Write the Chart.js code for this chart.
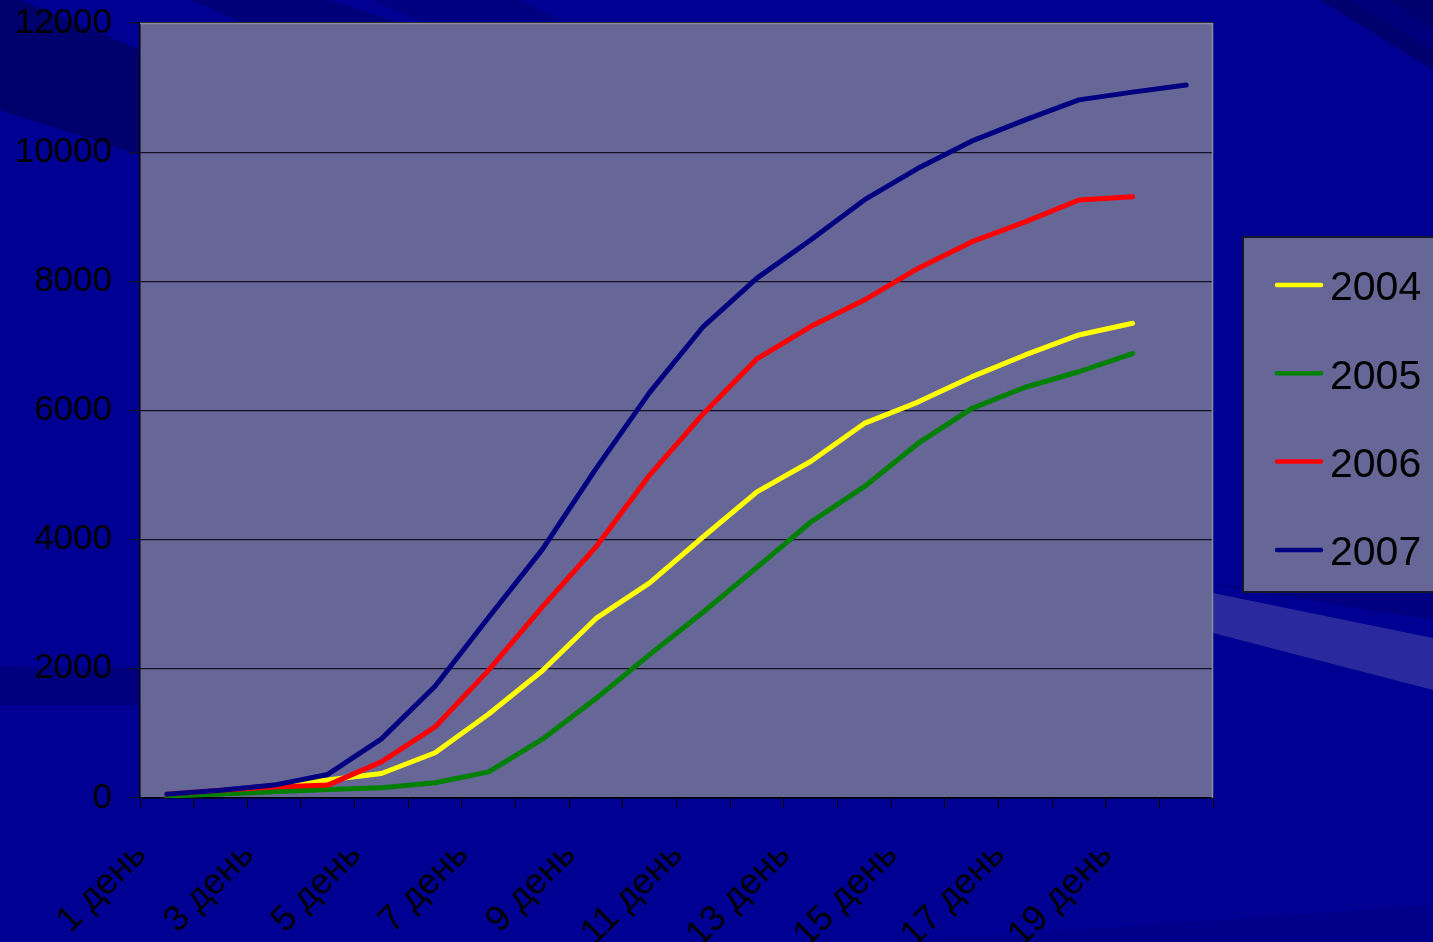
<!DOCTYPE html>
<html>
<head>
<meta charset="utf-8">
<script src="https://cdn.jsdelivr.net/npm/chart.js@4.4.1/dist/chart.umd.min.js"></script>
<style>
  html, body { margin: 0; padding: 0; background: #000092; }
  #wrap { width: 1433px; height: 942px; position: relative; }
</style>
</head>
<body>
<div id="wrap"><canvas id="c"></canvas></div>
<script>
// Category labels (days) and the cumulative series per year
const days = ['1 день','2 день','3 день','4 день','5 день','6 день','7 день','8 день','9 день','10 день',
              '11 день','12 день','13 день','14 день','15 день','16 день','17 день','18 день','19 день','20 день'];
const years = ['2004', '2005', '2006', '2007'];
const colors = ['#ffff00', '#008000', '#ff0000', '#000080'];

const v2004 = [55, 110, 190, 280, 380, 700, 1300, 1970, 2780, 3330, 4045, 4740, 5210, 5800, 6130, 6520, 6860, 7170, 7350];
const v2005 = [30, 60, 95, 130, 160, 235, 405, 910, 1540, 2220, 2880, 3570, 4270, 4820, 5490, 6030, 6360, 6600, 6880];
const v2006 = [60, 120, 170, 200, 560, 1100, 1980, 2960, 3890, 5000, 5950, 6800, 7300, 7710, 8200, 8610, 8920, 9260, 9310];
const v2007 = [60, 120, 200, 365, 915, 1730, 2800, 3850, 5100, 6280, 7300, 8050, 8640, 9260, 9750, 10170, 10500, 10810, 10930, 11040];

const yTicks = [0, 2000, 4000, 6000, 8000, 10000, 12000];

const FONT = "'Liberation Sans', Arial, sans-serif";
const PLOT_BG = '#676797';

// Slide backdrop: dark blue with diagonal bands
const backdrop = {
  id: 'backdrop',
  beforeDraw(chart) {
    const ctx = chart.ctx;
    const W = chart.width, H = chart.height;
    ctx.save();
    ctx.fillStyle = '#000092';
    ctx.fillRect(0, 0, W, H);
    const poly = (pts, color) => {
      ctx.beginPath();
      ctx.moveTo(pts[0][0], pts[0][1]);
      for (let i = 1; i < pts.length; i++) ctx.lineTo(pts[i][0], pts[i][1]);
      ctx.closePath();
      ctx.fillStyle = color;
      ctx.fill();
    };
    poly([[0, 0], [20, 0], [140, 50], [140, 155], [0, 110]], '#00006c');
    poly([[190, 0], [330, 0], [420, 30], [260, 30]], '#000078');
    poly([[370, 0], [520, 0], [560, 20], [420, 20]], '#000080');
    poly([[1320, 0], [1433, 0], [1433, 70]], '#00006e');
    poly([[1350, 0], [1390, 0], [1433, 30], [1433, 50]], '#00007c');
    poly([[1213, 593], [1433, 638], [1433, 690], [1213, 633]], '#2a2a9e');
    poly([[1213, 585], [1433, 592], [1433, 620]], '#000080');
    poly([[0, 667], [140, 668], [140, 705], [0, 705]], '#00007e');
    poly([[900, 942], [1433, 905], [1433, 942]], '#00008a');
    ctx.restore();
  }
};

// Plot area fill and light frame on the top and right edges
const plotFrame = {
  id: 'plotFrame',
  beforeDraw(chart) {
    const { left, top, right, bottom } = chart.chartArea;
    const ctx = chart.ctx;
    ctx.save();
    ctx.fillStyle = PLOT_BG;
    ctx.fillRect(left, top, right - left, bottom - top);
    ctx.restore();
  },
  afterDraw(chart) {
    const { left, top, right, bottom } = chart.chartArea;
    const ctx = chart.ctx;
    ctx.save();
    ctx.strokeStyle = '#8c8c9c';
    ctx.lineWidth = 1.5;
    ctx.beginPath();
    ctx.moveTo(left, top + 0.5);
    ctx.lineTo(right - 0.5, top + 0.5);
    ctx.lineTo(right - 0.5, bottom);
    ctx.stroke();
    ctx.restore();
  }
};

// Boxed legend on the right
const boxLegend = {
  id: 'boxLegend',
  afterDraw(chart) {
    const ctx = chart.ctx;
    const x0 = 1243, y0 = 237, x1 = 1440, y1 = 592;
    ctx.save();
    ctx.fillStyle = PLOT_BG;
    ctx.fillRect(x0, y0, x1 - x0, y1 - y0);
    ctx.strokeStyle = '#151530';
    ctx.lineWidth = 2;
    ctx.strokeRect(x0, y0, x1 - x0, y1 - y0);
    const rowH = 88.3;
    ctx.font = '41px ' + FONT;
    ctx.textBaseline = 'middle';
    ctx.textAlign = 'left';
    chart.data.datasets.forEach((ds, i) => {
      const yc = 285 + i * rowH;
      ctx.strokeStyle = ds.borderColor;
      ctx.lineWidth = 4.5;
      ctx.lineCap = 'round';
      ctx.beginPath();
      ctx.moveTo(1277, yc);
      ctx.lineTo(1321, yc);
      ctx.stroke();
      ctx.fillStyle = '#000000';
      ctx.fillText(ds.label, 1330, yc + 4);
    });
    ctx.restore();
  }
};

const series = [v2004, v2005, v2006, v2007];

new Chart(document.getElementById('c'), {
  type: 'line',
  data: {
    labels: days,
    datasets: years.map((y, i) => ({
      label: y,
      data: series[i],
      borderColor: colors[i],
      backgroundColor: colors[i],
      borderWidth: 5,
      borderJoinStyle: 'round',
      borderCapStyle: 'round',
      pointRadius: 0,
      tension: 0,
      fill: false,
      order: years.length - 1 - i
    }))
  },
  options: {
    responsive: true,
    maintainAspectRatio: false,
    animation: false,
    devicePixelRatio: 1,
    layout: { padding: { left: 0, top: 23, right: 220, bottom: 0 } },
    plugins: {
      legend: { display: false },
      tooltip: { enabled: false }
    },
    scales: {
      x: {
        type: 'category',
        offset: true,
        grid: {
          offset: true,
          drawOnChartArea: false,
          drawTicks: true,
          tickLength: 10,
          color: '#000000',
          lineWidth: 1
        },
        border: { display: true, color: '#000000', width: 1.5 },
        ticks: {
          autoSkip: false,
          minRotation: 45,
          maxRotation: 45,
          padding: 26,
          labelOffset: -26,
          color: '#000000',
          font: { family: FONT, size: 36 },
          callback: (v, i) => (i % 2 === 0 ? days[i] : '')
        },
        afterFit(scale) {
          scale.height = 144;
          scale.paddingLeft = 0;
          scale.paddingRight = 0;
        }
      },
      y: {
        min: 0,
        max: 12000,
        afterBuildTicks(scale) { scale.ticks = yTicks.map(v => ({ value: v })); },
        grid: {
          color: '#111122',
          lineWidth: 1.2,
          drawTicks: true,
          tickLength: 11
        },
        border: { display: true, color: '#000000', width: 1.5 },
        ticks: {
          padding: 17,
          color: '#000000',
          font: { family: FONT, size: 35 },
          callback: (v) => String(v)
        },
        afterFit(scale) {
          scale.width = 140;
          scale.paddingTop = 0;
          scale.paddingBottom = 0;
        }
      }
    }
  },
  plugins: [backdrop, plotFrame, boxLegend]
});
</script>
</body>
</html>
